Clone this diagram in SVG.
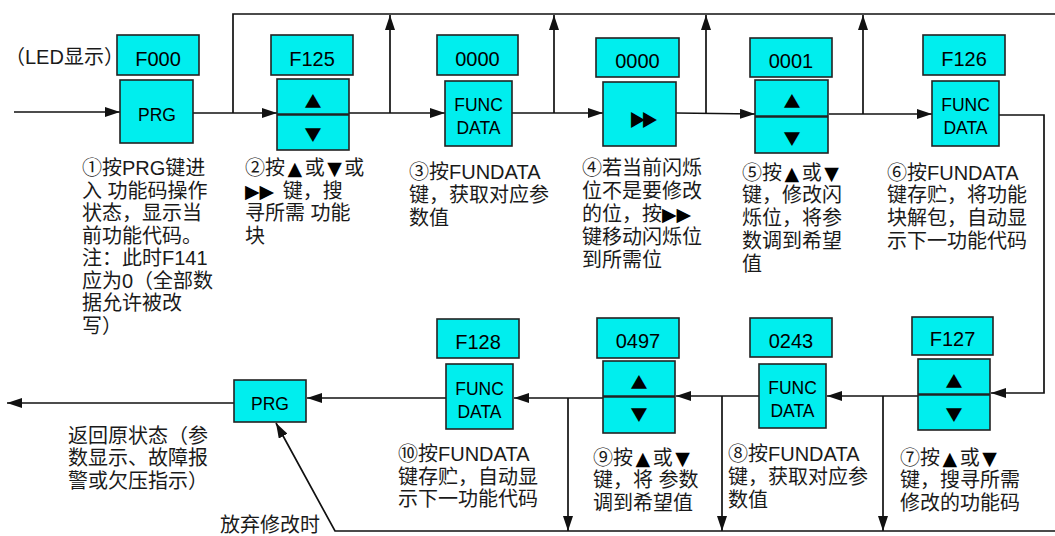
<svg xmlns="http://www.w3.org/2000/svg" width="1055" height="536" viewBox="0 0 1055 536">
<style>
.box{fill:#00EEEE;stroke:#222;stroke-width:1.6}
.div{stroke:#222;stroke-width:2.4}
.lbl{font-family:"Liberation Sans",Arial,sans-serif;font-size:20px;text-anchor:middle;fill:#000}
.key{font-family:"Liberation Sans",Arial,sans-serif;font-size:17.5px;text-anchor:middle;fill:#000}
.sym{font-family:"Noto Sans CJK SC","DejaVu Sans",sans-serif;font-size:17px;text-anchor:middle;fill:#000}
.desc{font-family:"Liberation Sans","Noto Sans CJK SC",sans-serif;font-size:20px;fill:#1a1a1a}
.tri{font-family:"DejaVu Sans",sans-serif;font-size:19px;fill:#000}
.wire{stroke:#111;stroke-width:1.7;fill:none}
.arr{marker-end:url(#ah)}
</style>
<defs>
<marker id="ah" markerUnits="userSpaceOnUse" markerWidth="15" markerHeight="10" refX="15" refY="5" orient="auto">
<path d="M0,0 L15,5 L0,10 z" fill="#111"/>
</marker>
</defs>
<rect width="1055" height="536" fill="#fff"/>

<g id="connectors">
<line class="wire arr" x1="14" y1="112" x2="120" y2="112"/>
<line class="wire arr" x1="193" y1="113" x2="277" y2="113"/>
<path class="wire" d="M233,113 V14 H1055"/>
<line class="wire arr" x1="349" y1="113" x2="445" y2="113"/>
<line class="wire arr" x1="390" y1="113" x2="390" y2="15"/>
<line class="wire arr" x1="512" y1="113" x2="603" y2="113"/>
<line class="wire arr" x1="554" y1="113" x2="554" y2="15"/>
<line class="wire arr" x1="676" y1="113" x2="755" y2="114"/>
<line class="wire arr" x1="706" y1="113" x2="706" y2="15"/>
<line class="wire arr" x1="829" y1="114" x2="932" y2="114"/>
<line class="wire arr" x1="863" y1="114" x2="863" y2="15"/>
<path class="wire arr" d="M999,115 H1044 V393 H991"/>
<line class="wire arr" x1="918" y1="396" x2="827" y2="396"/>
<line class="wire arr" x1="883" y1="396" x2="883" y2="531"/>
<line class="wire arr" x1="759" y1="396" x2="676" y2="396"/>
<line class="wire arr" x1="722" y1="396" x2="722" y2="531"/>
<line class="wire arr" x1="603" y1="398" x2="514" y2="398"/>
<line class="wire arr" x1="568" y1="398" x2="568" y2="531"/>
<line class="wire arr" x1="446" y1="398" x2="307" y2="398"/>
<line class="wire arr" x1="234" y1="403" x2="7" y2="403"/>
<path class="wire arr" d="M1055,531 H335 L276,423"/>
</g>

<text class="desc" x="5" y="64">（LED显示）</text>

<g id="n1">
<rect class="box" x="117" y="35" width="82" height="40"/>
<text class="lbl" x="158" y="66">F000</text>
<rect class="box" x="120" y="80" width="73" height="63"/>
<text class="key" x="157" y="121">PRG</text>
<text class="desc" x="82" y="175"><tspan x="82">①按PRG键进</tspan><tspan x="82" dy="22.5">入 功能码操作</tspan><tspan x="82" dy="22.5">状态，显示当</tspan><tspan x="82" dy="22.5">前功能代码。</tspan><tspan x="82" dy="22.5">注：此时F141</tspan><tspan x="82" dy="22.5">应为0（全部数</tspan><tspan x="82" dy="22.5">据允许被改</tspan><tspan x="82" dy="22.5">写）</tspan></text>
</g>

<g id="n2">
<rect class="box" x="271" y="35" width="82" height="40"/>
<text class="lbl" x="312" y="66">F125</text>
<rect class="box" x="277" y="79" width="72" height="71"/>
<line class="div" x1="277" y1="114.5" x2="349" y2="114.5"/>
<text class="sym" x="313" y="108">▲</text>
<text class="sym" x="313" y="140.5">▼</text>
<text class="desc" x="245" y="175">②按<tspan class="tri" dx="2.5">▲</tspan><tspan dx="2.5">或</tspan><tspan class="tri" dx="2.5">▼</tspan><tspan dx="2.5">或</tspan></text>
<text class="desc" x="245" y="197.5"><tspan class="tri">▶▶</tspan><tspan dx="3"> 键，搜</tspan></text>
<text class="desc" x="245" y="220"><tspan x="245">寻所需 功能</tspan><tspan x="245" dy="22.5">块</tspan></text>
</g>

<g id="n3">
<rect class="box" x="437" y="35" width="81" height="40"/>
<text class="lbl" x="477.5" y="66">0000</text>
<rect class="box" x="445" y="81" width="67" height="65"/>
<text class="key" x="478.5" y="111">FUNC</text>
<text class="key" x="478.5" y="134">DATA</text>
<text class="desc" x="409" y="179"><tspan x="409">③按FUNDATA</tspan><tspan x="409" dy="23">键，获取对应参</tspan><tspan x="409" dy="23">数值</tspan></text>
</g>

<g id="n4">
<rect class="box" x="596" y="38" width="83" height="39"/>
<text class="lbl" x="637.5" y="67.5">0000</text>
<rect class="box" x="603" y="82" width="73" height="64"/>
<text class="sym" x="641" y="126" font-size="21" letter-spacing="-5">▶▶</text>
<text class="desc" x="582" y="175"><tspan x="582">④若当前闪烁</tspan><tspan x="582" dy="23">位不是要修改</tspan></text>
<text class="desc" x="582" y="221">的位，按<tspan class="tri">▶▶</tspan></text>
<text class="desc" x="582" y="244"><tspan x="582">键移动闪烁位</tspan><tspan x="582" dy="23">到所需位</tspan></text>
</g>

<g id="n5">
<rect class="box" x="750" y="38" width="82" height="39"/>
<text class="lbl" x="791" y="67.5">0001</text>
<rect class="box" x="755" y="80" width="73" height="73"/>
<line class="div" x1="755" y1="116.5" x2="828" y2="116.5"/>
<text class="sym" x="792" y="108">▲</text>
<text class="sym" x="792" y="144.5">▼</text>
<text class="desc" x="742" y="179.5">⑤按<tspan class="tri" dx="2.5">▲</tspan><tspan dx="2.5">或</tspan><tspan class="tri" dx="2.5">▼</tspan></text>
<text class="desc" x="742" y="202.3"><tspan x="742">键，修改闪</tspan><tspan x="742" dy="22.8">烁位，将参</tspan><tspan x="742" dy="22.8">数调到希望</tspan><tspan x="742" dy="22.8">值</tspan></text>
</g>

<g id="n6">
<rect class="box" x="923" y="35" width="82" height="40"/>
<text class="lbl" x="964" y="66">F126</text>
<rect class="box" x="932" y="81" width="67" height="65"/>
<text class="key" x="965.5" y="111">FUNC</text>
<text class="key" x="965.5" y="134">DATA</text>
<text class="desc" x="887" y="179.5"><tspan x="887">⑥按FUNDATA</tspan><tspan x="887" dy="22.8">键存贮，将功能</tspan><tspan x="887" dy="22.8">块解包，自动显</tspan><tspan x="887" dy="22.8">示下一功能代码</tspan></text>
</g>

<g id="n7">
<rect class="box" x="912" y="317" width="81" height="38"/>
<text class="lbl" x="952.5" y="346">F127</text>
<rect class="box" x="918" y="359" width="72" height="71"/>
<line class="div" x1="918" y1="394.5" x2="990" y2="394.5"/>
<text class="sym" x="954" y="387.5">▲</text>
<text class="sym" x="954" y="420.5">▼</text>
<text class="desc" x="900" y="464.5">⑦按<tspan class="tri" dx="2.5">▲</tspan><tspan dx="2.5">或</tspan><tspan class="tri" dx="2.5">▼</tspan></text>
<text class="desc" x="900" y="487.3"><tspan x="900">键，搜寻所需</tspan><tspan x="900" dy="22.8">修改的功能码</tspan></text>
</g>

<g id="n8">
<rect class="box" x="750" y="318" width="82" height="39"/>
<text class="lbl" x="791" y="348">0243</text>
<rect class="box" x="759" y="364" width="67" height="64"/>
<text class="key" x="792.5" y="394">FUNC</text>
<text class="key" x="792.5" y="417">DATA</text>
<text class="desc" x="728" y="461"><tspan x="728">⑧按FUNDATA</tspan><tspan x="728" dy="23">键，获取对应参</tspan><tspan x="728" dy="23">数值</tspan></text>
</g>

<g id="n9">
<rect class="box" x="597" y="318" width="82" height="40"/>
<text class="lbl" x="638" y="348">0497</text>
<rect class="box" x="603" y="361" width="72" height="72"/>
<line class="div" x1="603" y1="396.5" x2="675" y2="396.5"/>
<text class="sym" x="639" y="388.5">▲</text>
<text class="sym" x="639" y="420.5">▼</text>
<text class="desc" x="593" y="464.5">⑨按<tspan class="tri" dx="2.5">▲</tspan><tspan dx="2.5">或</tspan><tspan class="tri" dx="2.5">▼</tspan></text>
<text class="desc" x="593" y="487.3"><tspan x="593">键，将 参数</tspan><tspan x="593" dy="22.8">调到希望值</tspan></text>
</g>

<g id="n10">
<rect class="box" x="437" y="319" width="82" height="39"/>
<text class="lbl" x="478" y="349">F128</text>
<rect class="box" x="446" y="364" width="67" height="65"/>
<text class="key" x="479.5" y="395">FUNC</text>
<text class="key" x="479.5" y="418">DATA</text>
<text class="desc" x="398" y="461"><tspan x="398">⑩按FUNDATA</tspan><tspan x="398" dy="22.5">键存贮，自动显</tspan><tspan x="398" dy="22.5">示下一功能代码</tspan></text>
</g>

<g id="n11">
<rect class="box" x="234" y="380" width="72" height="42"/>
<text class="key" x="270" y="410">PRG</text>
<text class="desc" x="68" y="442.5"><tspan x="68">返回原状态（参</tspan><tspan x="68" dy="22.5">数显示、故障报</tspan><tspan x="68" dy="22.5">警或欠压指示）</tspan></text>
<text class="desc" x="220" y="532">放弃修改时</text>
</g>
</svg>
